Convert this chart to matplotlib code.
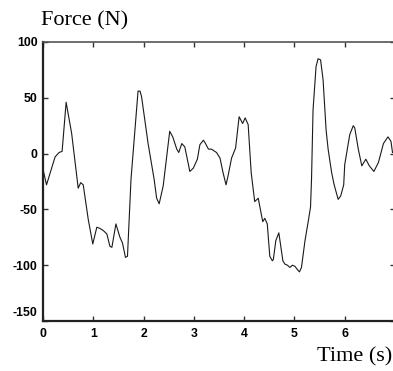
import matplotlib
matplotlib.use("Agg")
import matplotlib.pyplot as plt
from matplotlib.transforms import ScaledTranslation

# Force trace (time in s, force in N)
time_s = [0.00, 0.07, 0.24, 0.32, 0.38, 0.46, 0.57, 0.70, 0.75, 0.80,
          0.90, 0.99, 1.07, 1.13, 1.20, 1.27, 1.33, 1.37, 1.45, 1.53,
          1.58, 1.64, 1.68, 1.75, 1.89, 1.93, 1.96, 2.09, 2.21, 2.26,
          2.31, 2.39, 2.52, 2.58, 2.66, 2.70, 2.76, 2.82, 2.92, 2.99,
          3.07, 3.12, 3.19, 3.22, 3.29, 3.35, 3.45, 3.52, 3.58, 3.64,
          3.68, 3.75, 3.83, 3.90, 3.97, 4.02, 4.08, 4.14, 4.21, 4.28,
          4.37, 4.41, 4.46, 4.51, 4.56, 4.58, 4.63, 4.69, 4.77, 4.81,
          4.86, 4.91, 4.96, 5.01, 5.06, 5.10, 5.14, 5.21, 5.27, 5.32,
          5.34, 5.37, 5.43, 5.47, 5.52, 5.57, 5.63, 5.67, 5.74, 5.79,
          5.87, 5.92, 5.98, 6.00, 6.10, 6.17, 6.20, 6.27, 6.34, 6.42,
          6.49, 6.58, 6.67, 6.77, 6.86, 6.92, 6.95]
force_n = [-14, -28, -3, 1, 2, 46, 18, -31, -26, -28,
           -59, -81, -66, -67, -69, -72, -83, -84, -63, -75,
           -80, -93, -92, -23, 56, 56, 51, 9, -23, -40,
           -45, -29, 20, 15, 4, 1, 9, 6, -16, -13,
           -5, 8, 12, 10, 4, 4, 1, -4, -17, -28,
           -20, -4, 5, 33, 27, 32, 26, -17, -43, -40,
           -61, -58, -63, -92, -96, -95, -78, -71, -96, -99,
           -100, -102, -100, -101, -104, -106, -102, -78, -62, -48,
           -23, 39, 78, 85, 84, 66, 21, 4, -17, -28,
           -41, -38, -28, -10, 17, 25, 23, 4, -11, -5,
           -11, -16, -8, 9, 15, 11, 1]

x_ticks = [0, 1, 2, 3, 4, 5, 6, 7]
x_tick_labels = ["0", "1", "2", "3", "4", "5", "6", ""]
y_ticks = [-150, -100, -50, 0, 50, 100]

W, H = 393, 371
fig = plt.figure(figsize=(W / 100, H / 100), dpi=100)
left, right, top, bottom = 43, 395, 42, 321
ax = fig.add_axes([left / W, 1 - bottom / H, (right - left) / W, (bottom - top) / H])

ax.plot(time_s, force_n, color="#1a1a1a", linewidth=0.8)
ax.set_xlim(0, 7)
ax.set_ylim(-150, 100)
ax.set_xticks(x_ticks)
ax.set_yticks(y_ticks)

tick_font = dict(family="Liberation Sans", weight="bold", size=8.8)
ax.set_xticklabels(x_tick_labels, **tick_font)
ax.set_yticklabels([str(v) for v in y_ticks], **tick_font)
ax.tick_params(direction="in", length=3.5, width=1.0, top=True, right=True,
               color="#333333", pad=4)
ax.tick_params(axis="x", pad=5)

for name, sp in ax.spines.items():
    sp.set_linewidth(1.6 if name in ("left", "bottom") else 1.2)
    sp.set_color("#222222" if name in ("left", "bottom") else "#555555")

# lift the lowest y label off the corner
lab = ax.get_yticklabels()[0]
lab.set_transform(lab.get_transform() + ScaledTranslation(0, 10 / 100, fig.dpi_scale_trans))

serif = dict(family="Liberation Serif", size=16)
fig.text(41 / W, 1 - 25 / H, "Force (N)", ha="left", va="baseline", **serif)
fig.text(392 / W, 1 - 361 / H, "Time (s)", ha="right", va="baseline", **serif)

fig.savefig("out.png", dpi=100)
